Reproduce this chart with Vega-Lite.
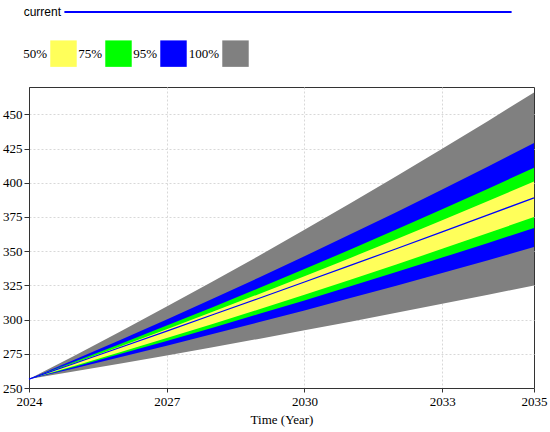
{
  "$schema": "https://vega.github.io/schema/vega-lite/v6.json",
  "width": 505,
  "height": 301,
  "autosize": {"type": "none"},
  "padding": {"left": 29, "top": 87, "right": 16, "bottom": 44},
  "background": "white",
  "config": {
    "view": {"stroke": "#333", "strokeWidth": 1},
    "font": "Liberation Serif",
    "axis": {
      "labelFont": "Liberation Serif",
      "labelFontSize": 13,
      "labelColor": "black",
      "labelOverlap": false,
      "titleFont": "Liberation Serif",
      "titleFontSize": 13,
      "titleFontWeight": "normal",
      "titleColor": "black",
      "domainColor": "#333",
      "tickColor": "#333",
      "gridColor": "#d8d8d8",
      "gridDash": [2, 2],
      "gridWidth": 1
    }
  },
  "data": {
    "values": [
      {"year": 2024, "g_lo": 256.5, "b_lo": 256.5, "gr_lo": 256.5, "y_lo": 256.5, "cur": 256.5, "y_hi": 256.5, "gr_hi": 256.5, "b_hi": 256.5, "g_hi": 256.5},
      {"year": 2025, "g_lo": 262.2, "b_lo": 264.5, "gr_lo": 265.6, "y_lo": 266.3, "cur": 268.1, "y_hi": 268.4, "gr_hi": 269.3, "b_hi": 270.8, "g_hi": 273.8},
      {"year": 2026, "g_lo": 267.9, "b_lo": 272.6, "gr_lo": 275.0, "y_lo": 276.3, "cur": 279.8, "y_hi": 280.6, "gr_hi": 282.3, "b_hi": 285.3, "g_hi": 291.5},
      {"year": 2027, "g_lo": 273.8, "b_lo": 280.9, "gr_lo": 284.4, "y_lo": 286.5, "cur": 291.6, "y_hi": 293.0, "gr_hi": 295.6, "b_hi": 300.1, "g_hi": 309.5},
      {"year": 2028, "g_lo": 279.8, "b_lo": 289.4, "gr_lo": 294.1, "y_lo": 296.8, "cur": 303.5, "y_hi": 305.7, "gr_hi": 309.1, "b_hi": 315.2, "g_hi": 327.8},
      {"year": 2029, "g_lo": 285.9, "b_lo": 298.0, "gr_lo": 304.0, "y_lo": 307.4, "cur": 315.4, "y_hi": 318.6, "gr_hi": 322.9, "b_hi": 330.6, "g_hi": 346.5},
      {"year": 2030, "g_lo": 292.2, "b_lo": 306.7, "gr_lo": 314.0, "y_lo": 318.2, "cur": 327.5, "y_hi": 331.7, "gr_hi": 336.9, "b_hi": 346.3, "g_hi": 365.6},
      {"year": 2031, "g_lo": 298.5, "b_lo": 315.7, "gr_lo": 324.3, "y_lo": 329.2, "cur": 339.6, "y_hi": 345.1, "gr_hi": 351.2, "b_hi": 362.3, "g_hi": 385.0},
      {"year": 2032, "g_lo": 305.0, "b_lo": 324.8, "gr_lo": 334.7, "y_lo": 340.3, "cur": 351.8, "y_hi": 358.7, "gr_hi": 365.8, "b_hi": 378.5, "g_hi": 404.7},
      {"year": 2033, "g_lo": 311.5, "b_lo": 334.0, "gr_lo": 345.3, "y_lo": 351.7, "cur": 364.1, "y_hi": 372.6, "gr_hi": 380.6, "b_hi": 395.1, "g_hi": 424.8},
      {"year": 2034, "g_lo": 318.2, "b_lo": 343.4, "gr_lo": 356.0, "y_lo": 363.2, "cur": 376.5, "y_hi": 386.7, "gr_hi": 395.7, "b_hi": 411.9, "g_hi": 445.2},
      {"year": 2035, "g_lo": 325.0, "b_lo": 353.0, "gr_lo": 367.0, "y_lo": 375.0, "cur": 389.0, "y_hi": 401.0, "gr_hi": 411.0, "b_hi": 429.0, "g_hi": 466.0}
    ]
  },
  "encoding": {
    "x": {
      "field": "year",
      "type": "quantitative",
      "scale": {"domain": [2024, 2035], "nice": false, "zero": false},
      "axis": {
        "values": [2024, 2027, 2030, 2033, 2035],
        "format": "d",
        "title": "Time (Year)",
        "tickSize": 4,
        "labelPadding": 3,
        "titlePadding": 5,
        "labelFlush": false,
        "gridOpacity": {"condition": {"test": "datum.value == 2035 || datum.value == 2024", "value": 0}, "value": 1}
      }
    }
  },
  "layer": [
    {
      "mark": {"type": "area", "opacity": 1},
      "encoding": {
        "y": {
          "field": "g_lo",
          "type": "quantitative",
          "scale": {"domain": [250, 470], "nice": false, "zero": false},
          "axis": {"values": [250, 275, 300, 325, 350, 375, 400, 425, 450], "title": null, "tickSize": 5, "labelPadding": 2, "labelOverlap": false}
        },
        "y2": {"field": "g_hi"},
        "color": {
          "datum": "100%",
          "type": "nominal",
          "scale": {
            "domain": ["50%", "75%", "95%", "100%"],
            "range": ["#FFFF5A", "#00FF00", "#0000FF", "#808080"]
          },
          "legend": {
            "orient": "none",
            "legendX": 21,
            "legendY": -47,
            "direction": "horizontal",
            "title": null,
            "padding": 0,
            "symbolType": "square",
            "symbolSize": 700,
            "symbolStrokeWidth": 0,
            "symbolOpacity": 1,
            "labelFont": "Liberation Serif",
            "labelFontSize": 13,
            "labelColor": "black",
            "labelAlign": "right",
            "labelOffset": -30,
            "columnPadding": 1
          }
        }
      }
    },
    {
      "mark": {"type": "area", "opacity": 1},
      "encoding": {
        "y": {
          "field": "b_lo",
          "type": "quantitative",
          "axis": {"values": [250, 275, 300, 325, 350, 375, 400, 425, 450], "title": null, "tickSize": 5, "labelPadding": 2, "labelOverlap": false}
        },
        "y2": {"field": "b_hi"},
        "color": {"datum": "95%", "type": "nominal"}
      }
    },
    {
      "mark": {"type": "area", "opacity": 1},
      "encoding": {
        "y": {
          "field": "gr_lo",
          "type": "quantitative",
          "axis": {"values": [250, 275, 300, 325, 350, 375, 400, 425, 450], "title": null, "tickSize": 5, "labelPadding": 2, "labelOverlap": false}
        },
        "y2": {"field": "gr_hi"},
        "color": {"datum": "75%", "type": "nominal"}
      }
    },
    {
      "mark": {"type": "area", "opacity": 1},
      "encoding": {
        "y": {
          "field": "y_lo",
          "type": "quantitative",
          "axis": {"values": [250, 275, 300, 325, 350, 375, 400, 425, 450], "title": null, "tickSize": 5, "labelPadding": 2, "labelOverlap": false}
        },
        "y2": {"field": "y_hi"},
        "color": {"datum": "50%", "type": "nominal"}
      }
    },
    {
      "mark": {"type": "line", "strokeWidth": 1.2},
      "encoding": {
        "y": {
          "field": "cur",
          "type": "quantitative",
          "axis": {"values": [250, 275, 300, 325, 350, 375, 400, 425, 450], "title": null, "tickSize": 5, "labelPadding": 2, "labelOverlap": false}
        },
        "stroke": {
          "datum": "current",
          "type": "nominal",
          "scale": {"domain": ["current"], "range": ["#0000FF"]},
          "legend": {
            "orient": "none",
            "legendX": 34,
            "legendY": -300,
            "title": null,
            "padding": 0,
            "symbolType": "stroke",
            "symbolSize": 200000,
            "symbolStrokeWidth": 2,
            "labelFont": "Liberation Sans",
            "labelFontSize": 12,
            "labelColor": "black",
            "labelAlign": "right",
            "labelOffset": -452
          }
        }
      }
    }
  ]
}
